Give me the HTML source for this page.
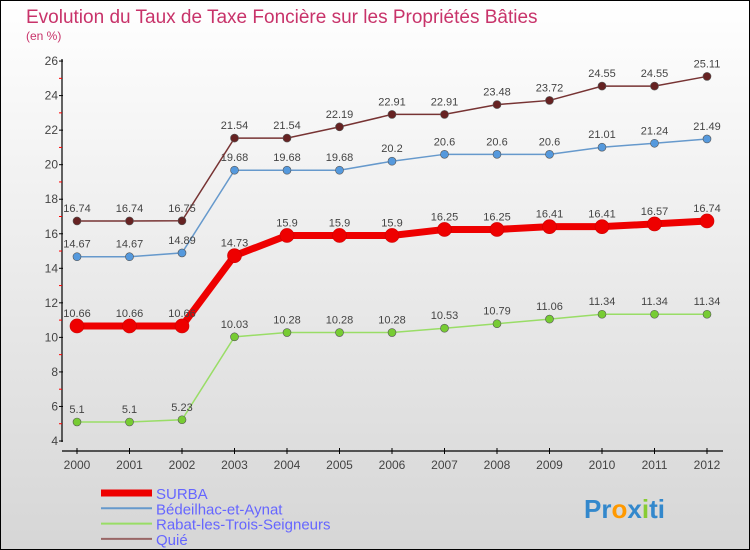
<!DOCTYPE html>
<html><head><meta charset="utf-8"><style>
body{margin:0}
#c{width:750px;height:550px;position:relative;box-sizing:border-box;border:1px solid #000;background:linear-gradient(#fff,#d6d6d6);font-family:"Liberation Sans",sans-serif;overflow:hidden}
</style></head><body>
<div id="c">
<svg id="s" width="750" height="550" style="position:absolute;left:0;top:0"></svg>
</div>
<script>
const years=[2000,2001,2002,2003,2004,2005,2006,2007,2008,2009,2010,2011,2012];
const surba=[10.66,10.66,10.66,14.73,15.9,15.9,15.9,16.25,16.25,16.41,16.41,16.57,16.74];
const bedeilhac=[14.67,14.67,14.89,19.68,19.68,19.68,20.2,20.6,20.6,20.6,21.01,21.24,21.49];
const rabat=[5.1,5.1,5.23,10.03,10.28,10.28,10.28,10.53,10.79,11.06,11.34,11.34,11.34];
const quie=[16.74,16.74,16.75,21.54,21.54,22.19,22.91,22.91,23.48,23.72,24.55,24.55,25.11];
const yTicks=[4,6,8,10,12,14,16,18,20,22,24,26];
const names=["SURBA","Bédeilhac-et-Aynat","Rabat-les-Trois-Seigneurs","Quié"];
const ns="http://www.w3.org/2000/svg",s=document.getElementById('s');
const X=y=>76+(y-2000)*52.5, Y=v=>440-(v-4)*17.27;
function el(t,a,p){const e=document.createElementNS(ns,t);for(const k in a)e.setAttribute(k,a[k]);(p||s).appendChild(e);return e;}
function tx(x,y,str,a){const e=el('text',Object.assign({x:x,y:y,'font-size':12,fill:'#444'},a||{}));e.textContent=str;return e;}
let t=tx(25,22,"Evolution du Taux de Taxe Foncière sur les Propriétés Bâties",{'font-size':19,fill:'#c8336a'});


t=tx(25,39,"(en %)",{'font-size':12,fill:'#c8336a'});


let ax=el('line',{x1:61,y1:58,x2:61,y2:441,stroke:'#000','stroke-width':1.2});


ax=el('line',{x1:61,y1:450,x2:722,y2:450,stroke:'#000','stroke-width':1.2});


yTicks.forEach(v=>{el('line',{x1:58,x2:62,y1:Y(v),y2:Y(v),stroke:'#000'});
 if(v<26)el('line',{x1:58,x2:61,y1:Y(v+1),y2:Y(v+1),stroke:'#f00'});
 const l=tx(57,Y(v)+4,String(v),{'text-anchor':'end'});
 
 });
years.forEach(y=>{el('line',{x1:X(y),x2:X(y),y1:447,y2:453,stroke:'#000'});
 const l=tx(X(y),468,String(y),{'text-anchor':'middle'});
 
 });
const series=[[rabat,'#99dd66','#77cc33',1.5,4],[bedeilhac,'#6699cc','#5599dd',1.5,4],[quie,'#773333','#662222',1.5,4],[surba,'#ee0000','#ee0000',7,7]];
const keys=['rabat','bedeilhac','quie','surba'];
series.forEach(([d,c,f,w,r],i)=>{
 const g=el('g',{});
 
 
 el('polyline',{points:d.map((v,j)=>X(years[j])+','+Y(v)).join(' '),fill:'none',stroke:c,'stroke-width':w},g);
 d.forEach((v,j)=>{const p=el('circle',{cx:X(years[j]),cy:Y(v),r:r,fill:f,stroke:c==f?'#cc0000':'#555','stroke-width':0.6},g);
  
  
  const l=tx(X(years[j]),Y(v)-9,String(v),{'text-anchor':'middle','font-size':11},g);
  
  });
});
const lc=['#ee0000','#6699cc','#99dd66','#996666'],lw=[7,2,2,2];
names.forEach((n,i)=>{const y=492+i*15.3;
 const g=el('g',{});
 
 
 el('line',{x1:100,x2:151,y1:y,y2:y,stroke:lc[i],'stroke-width':lw[i]},g);
 tx(155,y+6,n,{'font-size':15,fill:'#6666ff'},g);});
const lg=el('g',{});


const lt=tx(583,517,"",{'font-size':26,'font-weight':'bold'},lg);
[["Pr","#3388cc"],["o","#ff9900"],["x","#3388cc"],["i","#88cc33"],["ti","#3388cc"]].forEach(([a,c])=>{const sp=el('tspan',{fill:c},lt);sp.textContent=a;});
</script>
</body></html>
